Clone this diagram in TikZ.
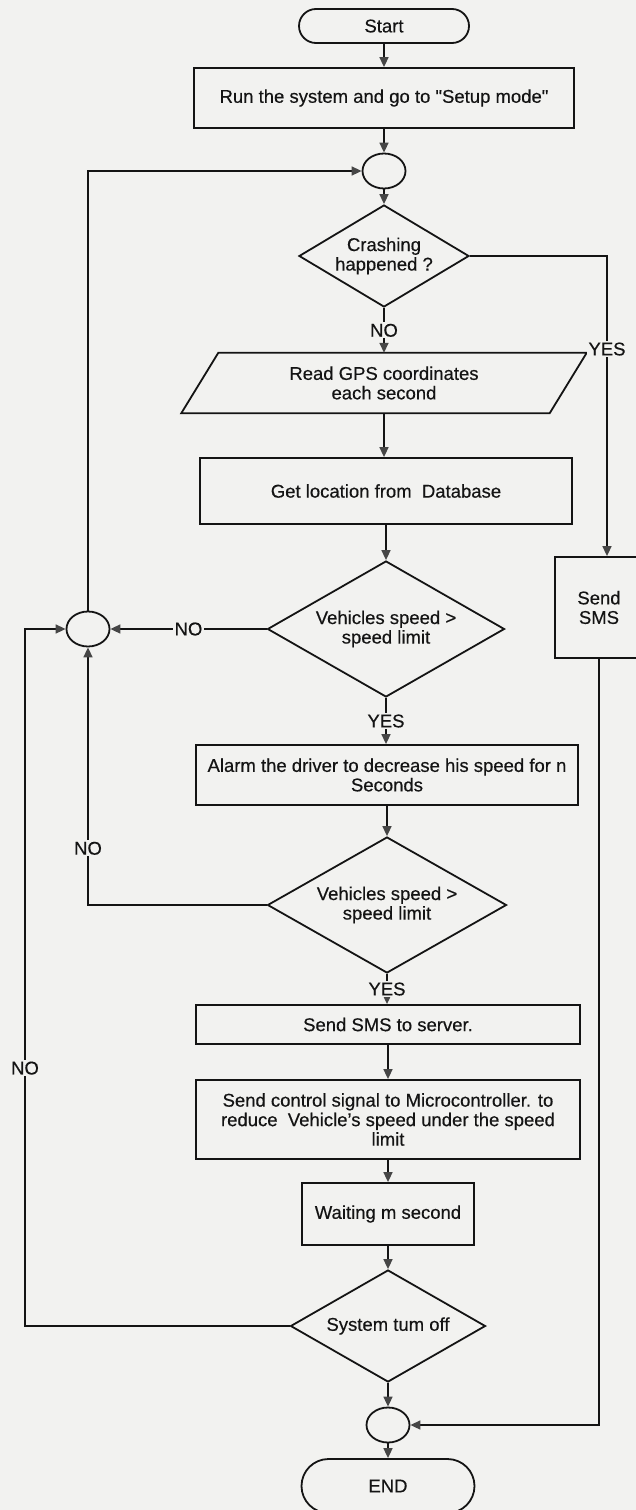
\documentclass[tikz,border=0pt]{standalone}
\usepackage{fontspec}
\setmainfont{Liberation Sans}[FakeBold=0.4]
\usetikzlibrary{shapes.geometric,shapes.misc,arrows.meta}
\definecolor{paper}{RGB}{242,242,240}
\definecolor{ink}{RGB}{20,20,20}
\definecolor{tipc}{RGB}{70,70,70}
\begin{document}
\begin{tikzpicture}[x=1pt,y=-1pt,
  font=\fontsize{18.5}{19.5}\selectfont,
  shp/.style={draw=ink, line width=1.8pt, inner sep=0pt, align=center, fill=paper, text=ink},
  box/.style={shp, rectangle},
  term/.style={shp, rounded rectangle},
  conn/.style={shp, ellipse, minimum width=43, minimum height=35},
  dec/.style={shp, diamond, aspect=1.7},
  lab/.style={fill=paper, inner sep=1.5pt, text=ink},
  arr/.style={draw=ink, line width=1.6pt, -{Triangle[length=10pt,width=9pt,color=tipc]}},
  ln/.style={draw=ink, line width=1.8pt}]
\clip (0,0) rectangle (636,1510);
\fill[paper] (0,0) rectangle (636,1510);
\useasboundingbox (0,0) rectangle (636,1510);

% nodes
\node[term, minimum width=170, minimum height=34] (start) at (384,26) {Start};
\node[box, minimum width=380, minimum height=60] (b1) at (384,98) {Run the system and go to \textquotedbl Setup mode\textquotedbl};
\node[conn] (c1) at (384,171) {};
\node[dec, minimum width=170, minimum height=102] (d1) at (384,256) {Crashing\\happened ?};
\node[inner sep=0pt, minimum width=368, minimum height=60, align=center, text=ink] (para) at (384,383) {Read GPS coordinates\\each second};
\draw[ln] ([xshift=18.5pt]para.north west) -- ([xshift=18.5pt]para.north east)
   -- ([xshift=-18.5pt]para.south east) -- ([xshift=-18.5pt]para.south west) -- cycle;
\node[box, minimum width=372, minimum height=66] (b2) at (386,491) {Get location from\ \ Database};
\node[dec, minimum width=237, minimum height=136] (d2) at (386,629) {Vehicles speed >\\speed limit};
\node[conn] (c2) at (88,629) {};
\node[box, minimum width=88, minimum height=101] (sms) at (599,607.5) {Send\\SMS};
\node[box, minimum width=382, minimum height=60] (alarm) at (387,775) {Alarm the driver to decrease his speed for n\\Seconds};
\node[dec, minimum width=239, minimum height=136] (d3) at (387,905) {Vehicles speed >\\speed limit};
\node[box, minimum width=384, minimum height=39] (srv) at (388,1024.5) {Send SMS to server.};
\node[box, minimum width=384, minimum height=79] (ctrl) at (388,1119.5) {Send control signal to Microcontroller. to\\reduce\ \ Vehicle's speed under the speed\\limit};
\node[box, minimum width=172, minimum height=62] (wait) at (388,1214) {Waiting m second};
\node[dec, minimum width=195, minimum height=112] (d4) at (388,1326) {System tum off};
\node[conn] (c3) at (388,1425) {};
\node[term, minimum width=173, minimum height=54] (end) at (388,1486) {END};

% helper coordinates
\coordinate (yescorner) at (607,256);
\coordinate (lb) at (25,1326);
\coordinate (lt) at (25,629);

% connectors
\draw[arr] (start.south) -- (start.south |- b1.north);
\draw[arr] (b1.south) -- (b1.south |- c1.north);
\draw[arr] (c1.south) -- (d1.north);
\draw[arr] (d1.south) -- node[lab] (lno1) {NO} (d1.south |- para.north);
\draw[arr] (d1.east) -- (yescorner) -- node[lab, pos=0.31] (lyes1) {YES} (yescorner |- sms.north);
\draw[arr] (para.south) -- (para.south |- b2.north);
\draw[arr] (b2.south) -- (d2.north);
\draw[arr] (d2.west) -- node[lab] (lno2) {NO} (c2.east);
\draw[arr] (d2.south) -- node[lab] (lyes2) {YES} (d2.south |- alarm.north);
\draw[arr] (alarm.south) -- (d3.north);
\draw[arr] (d3.west) -- (c2 |- d3.west) -- node[lab, pos=0.22] (lno3) {NO} (c2.south);
\draw[arr] (d3.south) -- node[lab] (lyes3) {YES} (d3.south |- srv.north);
\draw[arr] (srv.south) -- (ctrl.north);
\draw[arr] (ctrl.south) -- (wait.north);
\draw[arr] (wait.south) -- (d4.north);
\draw[arr] (d4.west) -- (lb) -- node[lab, pos=0.37] (lno4) {NO} (lt) -- (c2.west);
\draw[arr] (c2.north) -- (c2.north |- c1.west) -- (c1.west);
\draw[arr] (d4.south) -- (c3.north);
\draw[arr] (c3.south) -- (end.north);
\draw[arr] (sms.south) -- (sms.south |- c3.east) -- (c3.east);
\end{tikzpicture}
\end{document}
